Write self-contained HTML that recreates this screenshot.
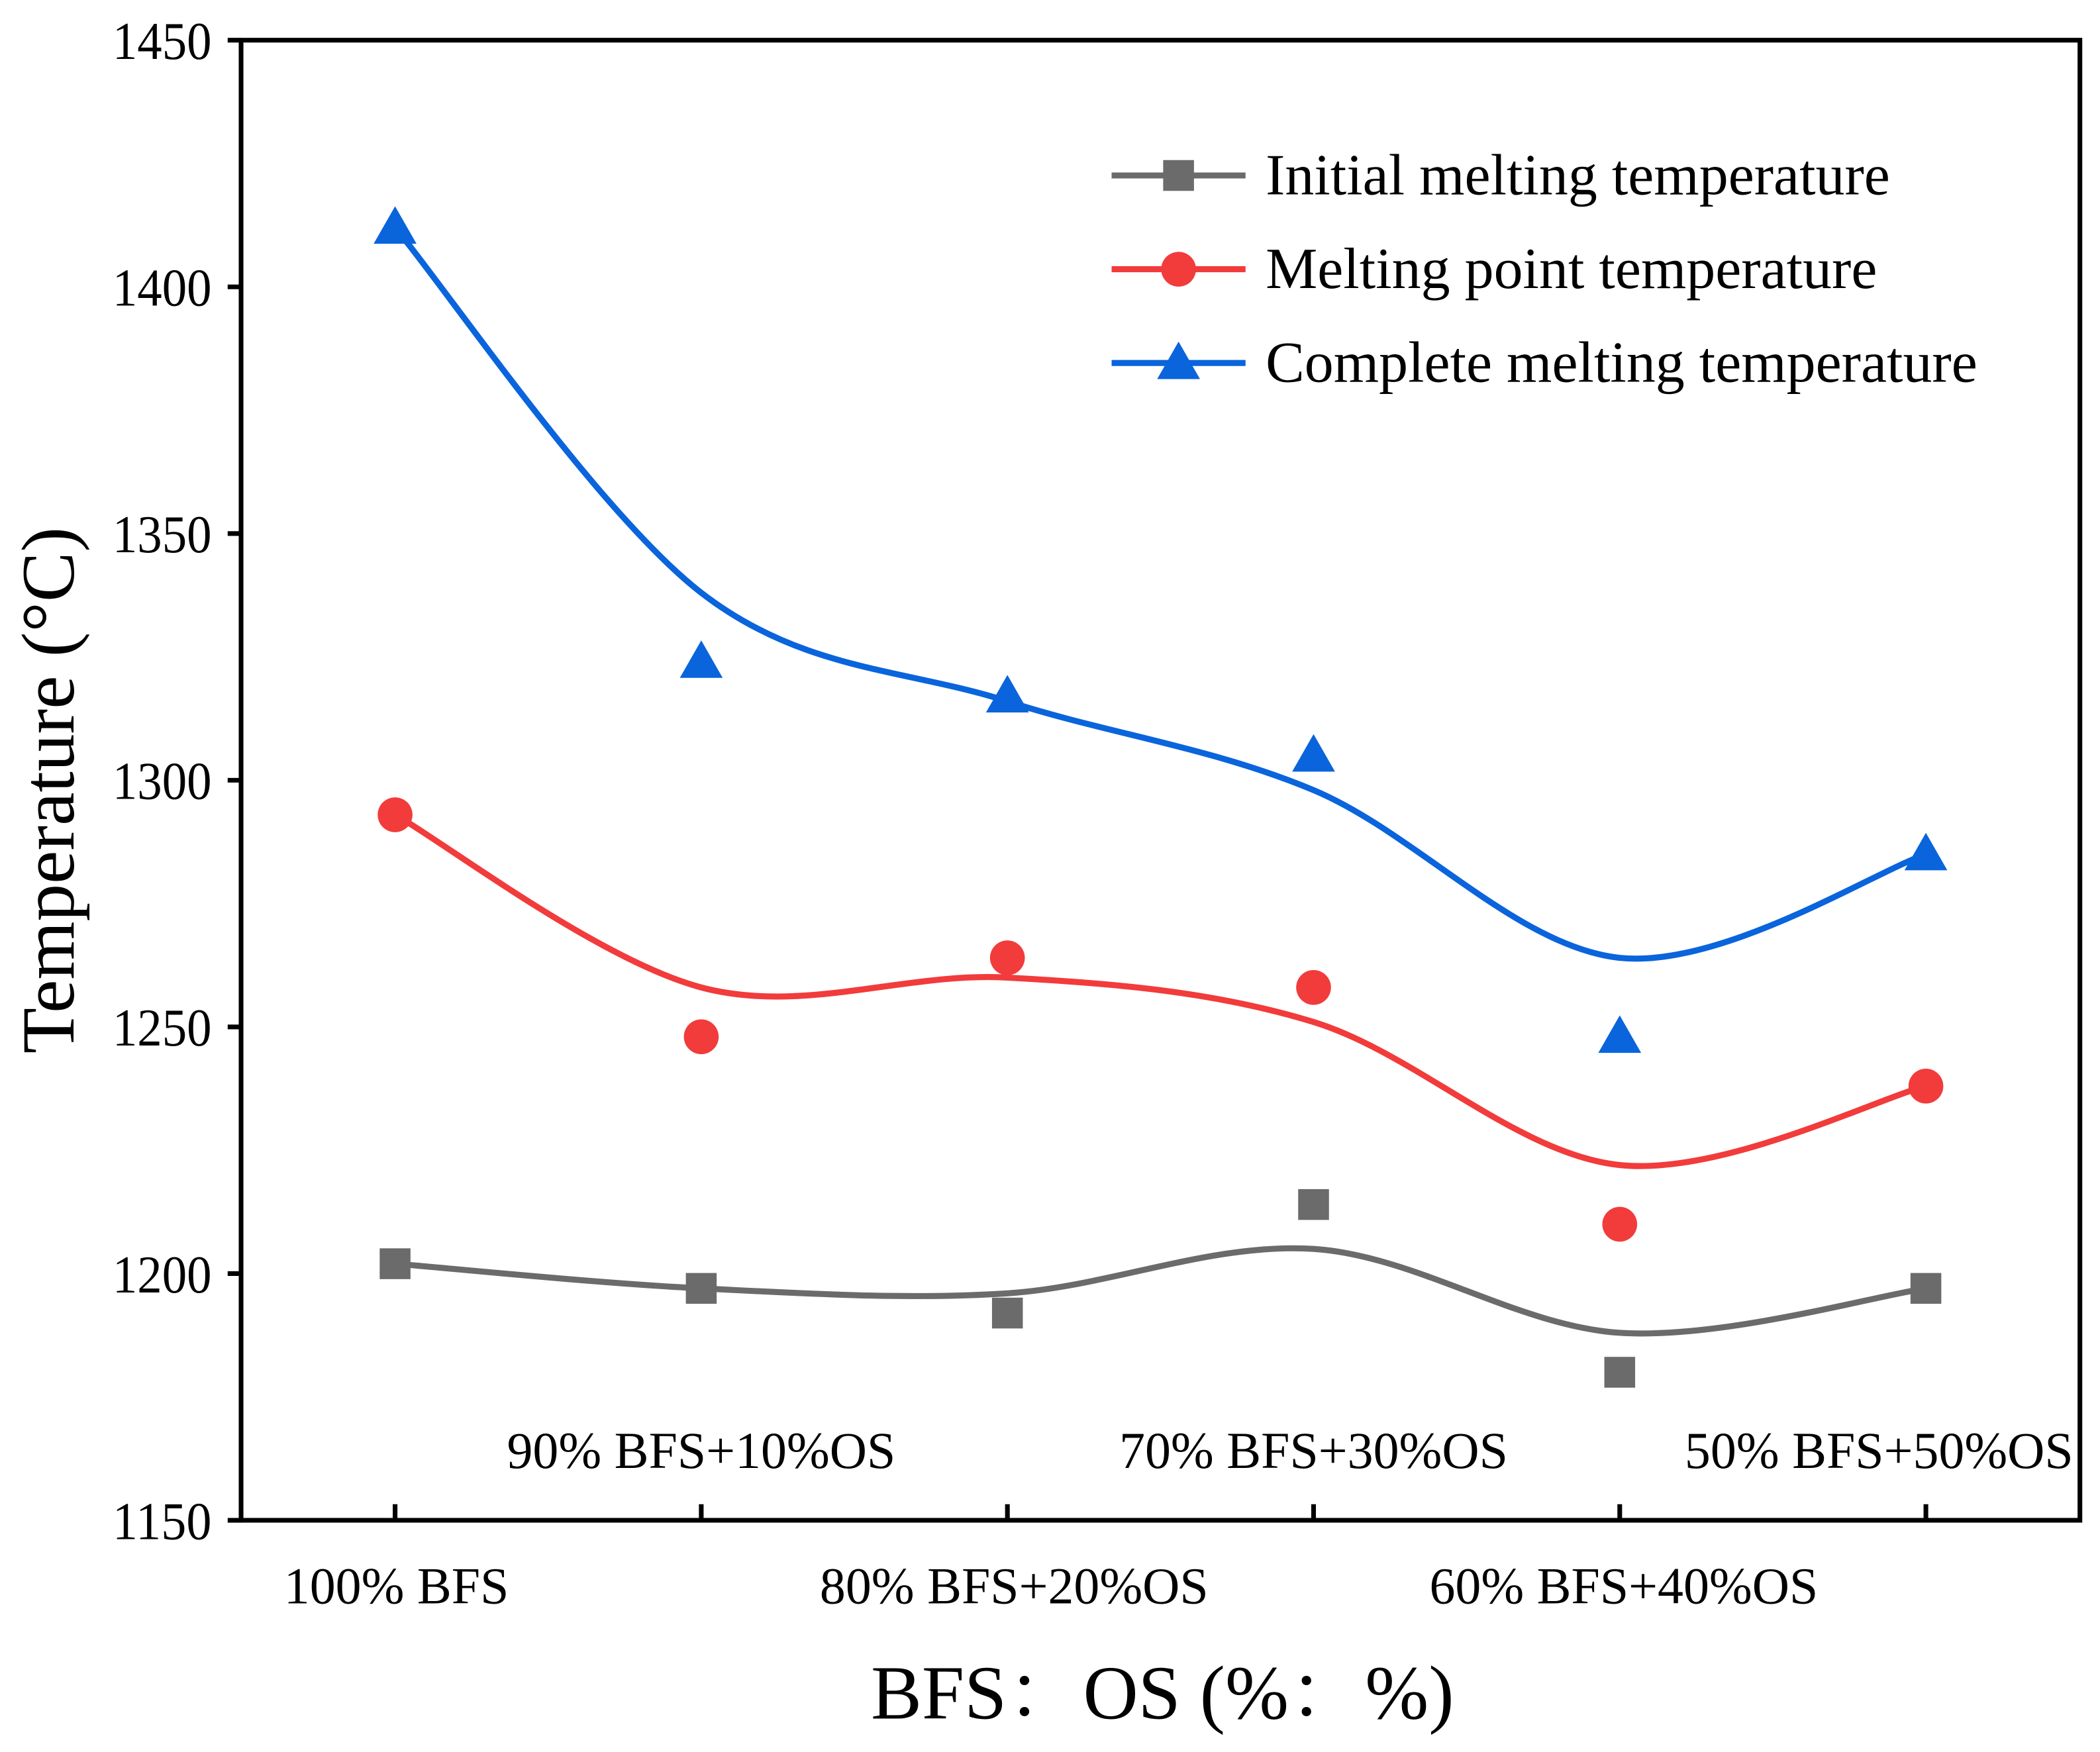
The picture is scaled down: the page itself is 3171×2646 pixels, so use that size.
<!DOCTYPE html>
<html><head><meta charset="utf-8"><style>
html,body{margin:0;padding:0;background:#fff;}
svg{display:block;}
text{font-family:"Liberation Serif","Noto Serif CJK SC",serif;fill:#000;}
</style></head><body>
<svg id="chart" width="3171" height="2646" viewBox="0 0 1568 1308" preserveAspectRatio="none" xmlns="http://www.w3.org/2000/svg">
<g id="axes"></g>
<g id="series"></g>
<g id="legend"></g>
</svg>
<script>
const categories = ["100% BFS","90% BFS+10%OS","80% BFS+20%OS","70% BFS+30%OS","60% BFS+40%OS","50% BFS+50%OS"];
const yTicks = [1150,1200,1250,1300,1350,1400,1450];
const initialVals = [1202,1197,1192,1214,1180,1197];
const meltingVals = [1293,1248,1264,1258,1210,1238];
const completeVals = [1412,1324,1317,1305,1248,1285];
const initialFit = [1202,1197,1196,1205,1188,1197];
const meltingFit = [1293,1258,1260,1251,1222,1238];
const completeFit = [1412,1338,1316,1298,1264,1285];
const seriesNames = ["Initial melting temperature","Melting point temperature","Complete melting temperature"];

const NS="http://www.w3.org/2000/svg";
const L=180,R=1553,T=30,B=1135;
const yMin=1150,yMax=1450;
const xPos=i=>295+i*228.6;
const yPos=v=>B-(v-yMin)/(yMax-yMin)*(B-T);
function mk(tag,attrs,parent){const e=document.createElementNS(NS,tag);for(const k in attrs)e.setAttribute(k,attrs[k]);parent.appendChild(e);return e;}
const axes=document.getElementById('axes'),ser=document.getElementById('series'),leg=document.getElementById('legend');

let frame=mk('rect',{x:L,y:T,width:R-L,height:B-T,fill:'none',stroke:'#000','stroke-width':3.5},axes);


yTicks.forEach(v=>{
  let t=mk('line',{x1:L-10,x2:L,y1:yPos(v),y2:yPos(v),stroke:'#000','stroke-width':3.5},axes);
  
  
  let tx=mk('text',{x:158,y:yPos(v)+14,'text-anchor':'end','font-size':40,textLength:74,lengthAdjust:'spacingAndGlyphs'},axes);
  tx.textContent=v;
  
  
});
categories.forEach((c,i)=>{
  let t=mk('line',{x1:xPos(i),x2:xPos(i),y1:B-12,y2:B,stroke:'#000','stroke-width':3.5},axes);
  
  
  const top=i%2===1;
  let cx=xPos(i)+(i===0?1:i===2?5:i===4?3:i===5?-35:0);
  let tx=mk('text',{x:cx,y:top?1096:1197,'text-anchor':'middle','font-size':38.5},axes);
  tx.textContent=c;
  
  
});
let yt=mk('text',{x:0,y:0,'text-anchor':'middle','font-size':56,transform:'translate(55,590) rotate(-90)'},axes);
yt.textContent='Temperature (°C)';


let xt=mk('text',{x:868,y:1283,'text-anchor':'middle','font-size':57},axes);
xt.textContent='BFS：OS (%：%)';



function curve(vals){
  const p=vals.map((v,i)=>[xPos(i),yPos(v)]);
  let d='M'+p[0][0]+','+p[0][1];
  for(let i=0;i<p.length-1;i++){
    const p0=p[Math.max(i-1,0)],p1=p[i],p2=p[i+1],p3=p[Math.min(i+2,p.length-1)];
    const c1=[p1[0]+(p2[0]-p0[0])/6,p1[1]+(p2[1]-p0[1])/6];
    const c2=[p2[0]-(p3[0]-p1[0])/6,p2[1]-(p3[1]-p1[1])/6];
    d+=` C${c1[0]},${c1[1]} ${c2[0]},${c2[1]} ${p2[0]},${p2[1]}`;
  }
  return d;
}
function marker(kind,x,y,color,parent){
  let e;
  if(kind==='square') e=mk('rect',{x:x-11.5,y:y-11.5,width:23,height:23,fill:color},parent);
  else if(kind==='circle') e=mk('circle',{cx:x,cy:y,r:13,fill:color},parent);
  else e=mk('polygon',{points:`${x},${y-16} ${x-16},${y+12} ${x+16},${y+12}`,fill:color},parent);
  return e;
}
const defs=[
  {vals:initialVals,fit:initialFit,color:'#6b6b6b',kind:'square',name:'initial'},
  {vals:meltingVals,fit:meltingFit,color:'#f23b3b',kind:'circle',name:'melting'},
  {vals:completeVals,fit:completeFit,color:'#0a64dc',kind:'triangle',name:'complete'}];
defs.forEach((s,k)=>{
  let path=mk('path',{d:curve(s.fit),fill:'none',stroke:s.color,'stroke-width':4.5},ser);
  
  
  s.vals.forEach((v,i)=>{
    let m=marker(s.kind,xPos(i),yPos(v),s.color,ser);
    
    
  });
  const ly=131+k*70;
  let ll=mk('line',{x1:830,x2:930,y1:ly,y2:ly,stroke:s.color,'stroke-width':4.5},leg);
  
  
  let lm=marker(s.kind,880,ly,s.color,leg);
  
  
  let lt=mk('text',{x:945,y:ly+14,'font-size':43.5},leg);
  lt.textContent=seriesNames[k];
  
  
});
</script>
</body></html>
